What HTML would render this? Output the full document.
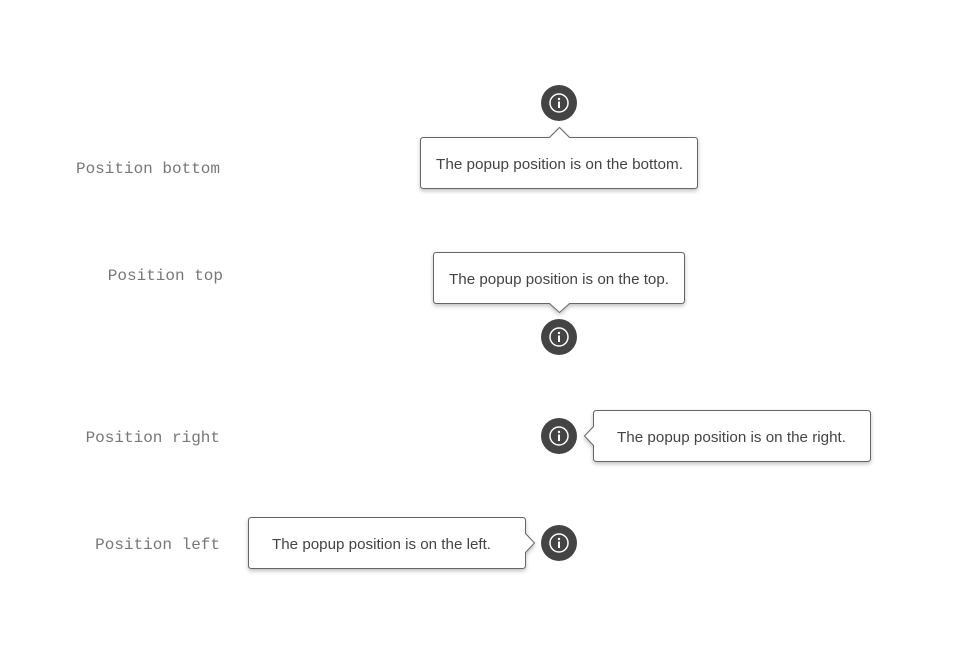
<!DOCTYPE html>
<html><head><meta charset="utf-8"><style>
html,body{margin:0;padding:0;background:#fff;}
svg{display:block}
.lab{font-family:"Liberation Mono",monospace;font-size:16px;fill:#777;}
.t{font-family:"Liberation Sans",sans-serif;font-size:15px;fill:#444;}
.b{fill:#fff;stroke:#666;stroke-width:1;filter:url(#sh);}
</style></head><body>
<svg width="961" height="660" viewBox="0 0 961 660" xmlns="http://www.w3.org/2000/svg">
<defs>
<filter id="sh" x="-10%" y="-20%" width="120%" height="150%"><feDropShadow dx="0" dy="2" stdDeviation="2" flood-color="#000" flood-opacity="0.25"/></filter>
<g id="ic"><circle r="18" fill="#444"/><circle r="9" fill="none" stroke="#fff" stroke-width="1.5"/><circle cy="-4" r="1.2" fill="#fff"/><rect x="-1" y="-1.5" width="2" height="6.5" fill="#fff"/></g>
</defs>
<text class="lab" x="220" y="173" text-anchor="end">Position bottom</text>
<text class="lab" x="223" y="280" text-anchor="end">Position top</text>
<text class="lab" x="220" y="442" text-anchor="end">Position right</text>
<text class="lab" x="220" y="549" text-anchor="end">Position left</text>

<!-- bottom -->
<use href="#ic" x="559" y="103"/>
<path class="b" d="M423.5,137.5 H549.5 L559.5,127.5 L569.5,137.5 H694.5 Q697.5,137.5 697.5,140.5 V185.5 Q697.5,188.5 694.5,188.5 H423.5 Q420.5,188.5 420.5,185.5 V140.5 Q420.5,137.5 423.5,137.5 Z"/>
<text class="t" x="436" y="169" textLength="247" lengthAdjust="spacingAndGlyphs">The popup position is on the bottom.</text>

<!-- top -->
<path class="b" d="M436.5,252.5 H681.5 Q684.5,252.5 684.5,255.5 V300.5 Q684.5,303.5 681.5,303.5 H569.5 L559.5,312.5 L549.5,303.5 H436.5 Q433.5,303.5 433.5,300.5 V255.5 Q433.5,252.5 436.5,252.5 Z"/>
<text class="t" x="449" y="284" textLength="220" lengthAdjust="spacingAndGlyphs">The popup position is on the top.</text>
<use href="#ic" x="559" y="337"/>

<!-- right -->
<use href="#ic" x="559" y="436"/>
<path class="b" d="M596.5,410.5 H867.5 Q870.5,410.5 870.5,413.5 V458.5 Q870.5,461.5 867.5,461.5 H596.5 Q593.5,461.5 593.5,458.5 V445.5 L584.5,436 L593.5,426.5 V413.5 Q593.5,410.5 596.5,410.5 Z"/>
<text class="t" x="617" y="442" textLength="229" lengthAdjust="spacingAndGlyphs">The popup position is on the right.</text>

<!-- left -->
<path class="b" d="M251.5,517.5 H522.5 Q525.5,517.5 525.5,520.5 V533.5 L534.5,543 L525.5,552.5 V565.5 Q525.5,568.5 522.5,568.5 H251.5 Q248.5,568.5 248.5,565.5 V520.5 Q248.5,517.5 251.5,517.5 Z"/>
<text class="t" x="272" y="549" textLength="219" lengthAdjust="spacingAndGlyphs">The popup position is on the left.</text>
<use href="#ic" x="559" y="543"/>
</svg>
</body></html>
